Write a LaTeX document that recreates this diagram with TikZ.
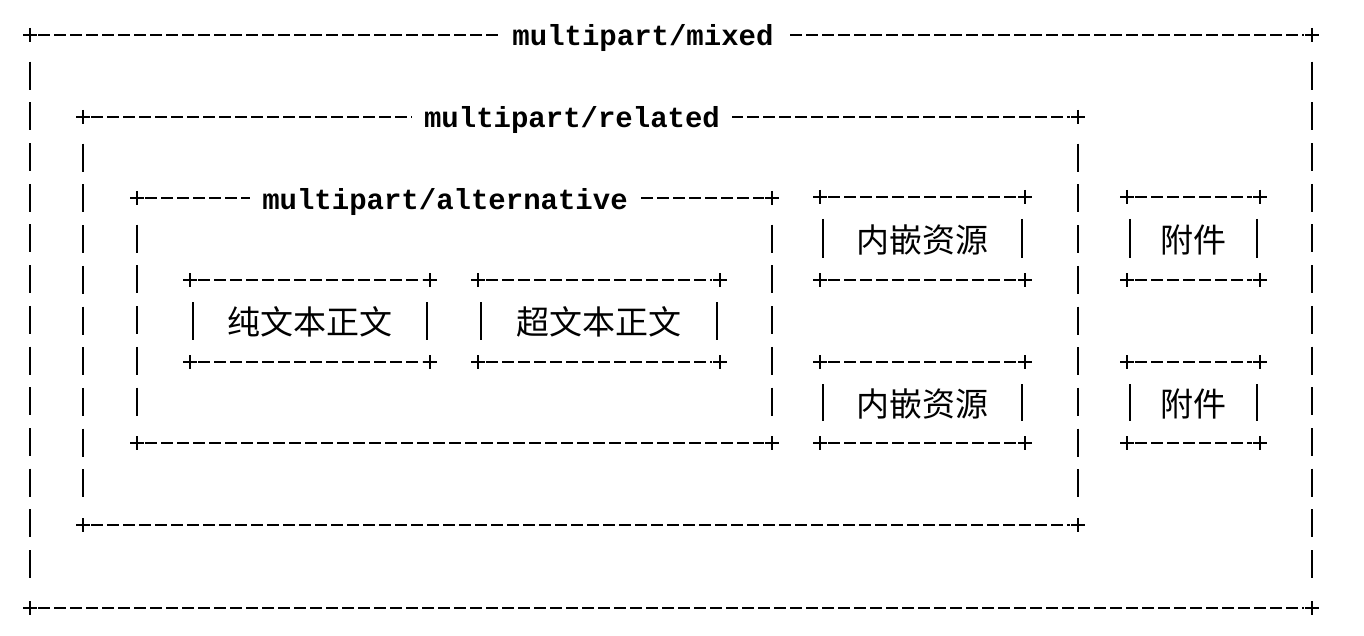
\documentclass[tikz,border=0pt]{standalone}
\usepackage{fontspec}
\setmonofont{Liberation Mono}
\newfontfamily\cjk{Noto Sans CJK SC}
\begin{document}
\begin{tikzpicture}[x=1pt,y=-1pt,
  hl/.style={line width=1.3pt,dash pattern=on 12pt off 4pt},
  vl/.style={line width=1.3pt,dash pattern=on 28pt off 12.7pt},
  lbl/.style={fill=white,inner xsep=12pt,inner ysep=6pt,font=\ttfamily\bfseries\fontsize{29}{29}\selectfont},
  cj/.style={font=\cjk\fontsize{33}{33}\selectfont,inner sep=0pt}]
\useasboundingbox (0,0) rectangle (1364,636);
\fill[white] (0,0) rectangle (1364,636);
\newcommand\pluss[2]{\draw[line width=1.3pt] (#1-7,#2)--(#1+7,#2) (#1,#2-7)--(#1,#2+7);}
% big box: x1 y1 x2 y2
\newcommand\bigbox[4]{%
  \draw[hl] (#1+8,#2)--(#3-8,#2); \draw[hl] (#1+8,#4)--(#3-8,#4);
  \draw[vl] (#1,#2+26.7)--(#1,#4-26); \draw[vl] (#3,#2+26.7)--(#3,#4-26);
  \pluss{#1}{#2}\pluss{#3}{#2}\pluss{#1}{#4}\pluss{#3}{#4}}
% small box: x1 y1 x2 y2
\newcommand\smallbox[4]{%
  \draw[hl] (#1+8,#2)--(#3-8,#2); \draw[hl] (#1+8,#4)--(#3-8,#4);
  \draw[line width=1.3pt] (#1+3,#2+22)--(#1+3,#4-22) (#3-3,#2+22)--(#3-3,#4-22);
  \pluss{#1}{#2}\pluss{#3}{#2}\pluss{#1}{#4}\pluss{#3}{#4}}
\bigbox{30}{35}{1312}{608}
\bigbox{83}{117}{1078}{525}
\bigbox{137}{198}{772}{443}
\smallbox{190}{280}{430}{362}
\smallbox{478}{280}{720}{362}
\smallbox{820}{197}{1025}{280}
\smallbox{820}{362}{1025}{443}
\smallbox{1127}{197}{1260}{280}
\smallbox{1127}{362}{1260}{443}
\node[lbl] (mixed) at (643,38) {multipart/mixed};
\node[lbl] (related) at (572,120) {multipart/related};
\node[lbl] (alt) at (445,202) {multipart/alternative};
\node[cj] (plain) at (310,322) {纯文本正文};
\node[cj] (html) at (599,322) {超文本正文};
\node[cj] (res1) at (922,240) {内嵌资源};
\node[cj] (res2) at (922,404) {内嵌资源};
\node[cj] (att1) at (1193,240) {附件};
\node[cj] (att2) at (1193,404) {附件};
\end{tikzpicture}
\end{document}
